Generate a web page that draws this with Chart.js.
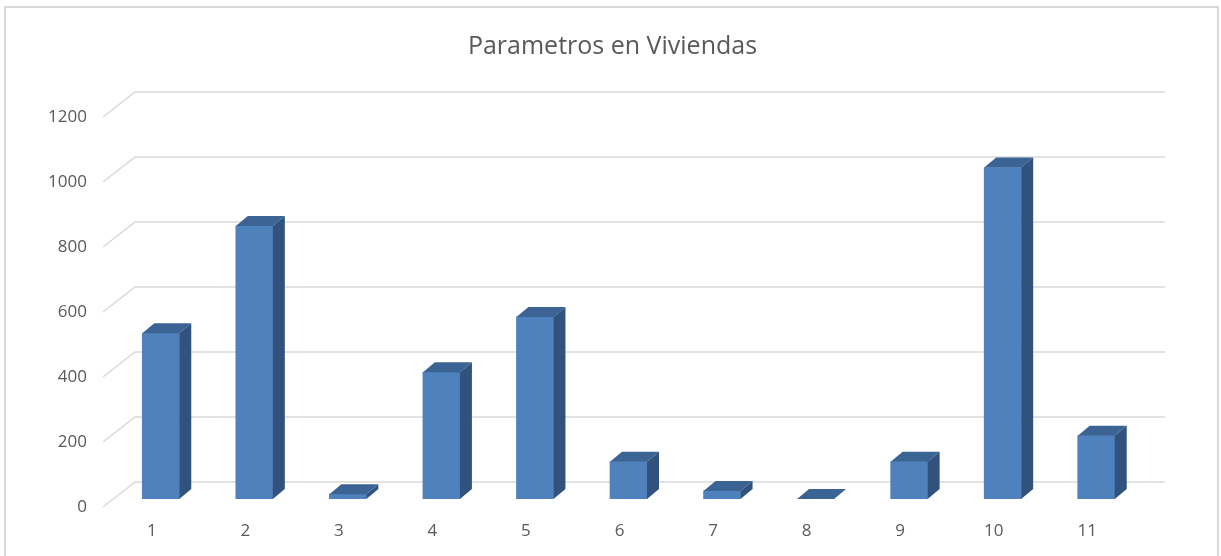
<!DOCTYPE html>
<html>
<head>
<meta charset="utf-8">
<script src="https://cdn.jsdelivr.net/npm/chart.js@4/dist/chart.umd.min.js"></script>
<style>
  html, body { margin: 0; padding: 0; background: #ffffff; }
  #wrap { width: 1221px; height: 556px; position: relative; }
</style>
</head>
<body>
<div id="wrap"><canvas id="c" width="1221" height="556"></canvas></div>
<script>
const chartTitle = "Parametros en Viviendas";
const categories = ["1", "2", "3", "4", "5", "6", "7", "8", "9", "10", "11"];
const values = [510, 840, 15, 390, 560, 115, 25, 0, 115, 1020, 195];
const yTicks = [0, 200, 400, 600, 800, 1000, 1200];

const frontColor = "#4F81BD";
const topColor = "#3B6495";
const sideColor = "#30527C";
const gridColor = "#D9D9D9";
const textColor = "#595959";

const DEPTH_DX = 12, DEPTH_DY = -10;       // bar depth
const BACK_DX = 21, BACK_DY = -17;         // back wall offset from bar plane
const FRONT_DX = -11, FRONT_DY = 8;        // front edge offset from bar plane

const framePlugin = {
  id: "frame",
  beforeDraw(chart) {
    const ctx = chart.ctx;
    ctx.save();
    ctx.strokeStyle = gridColor;
    ctx.lineWidth = 2;
    ctx.strokeRect(5, 7, 1213, 560);
    // chart title, centred on the whole chart frame
    ctx.fillStyle = textColor;
    ctx.font = "normal 25px 'Open Sans', sans-serif";
    ctx.textAlign = "center";
    ctx.textBaseline = "middle";
    ctx.fillText(chartTitle, chart.width / 2 + 2, 47);
    ctx.restore();
  }
};

const wallPlugin = {
  id: "wall",
  beforeDatasetsDraw(chart) {
    const ctx = chart.ctx;
    const y = chart.scales.y;
    const { left, right } = chart.chartArea;
    ctx.save();
    ctx.strokeStyle = gridColor;
    ctx.lineWidth = 1.5;
    y.ticks.forEach(t => {
      const yb = y.getPixelForValue(t.value);
      ctx.beginPath();
      ctx.moveTo(left + FRONT_DX, yb + FRONT_DY);
      ctx.lineTo(left + BACK_DX, yb + BACK_DY);
      ctx.lineTo(right + BACK_DX + 1, yb + BACK_DY);
      ctx.stroke();
    });
    ctx.restore();
  }
};

const depthPlugin = {
  id: "depth",
  afterDatasetsDraw(chart) {
    const ctx = chart.ctx;
    const meta = chart.getDatasetMeta(0);
    ctx.save();
    meta.data.forEach(el => {
      const p = el.getProps(["x", "y", "base", "width"], true);
      const l = p.x - p.width / 2, r = p.x + p.width / 2;
      const top = Math.min(p.y, p.base), bot = Math.max(p.y, p.base);
      ctx.fillStyle = topColor;
      ctx.beginPath();
      ctx.moveTo(l, top);
      ctx.lineTo(r, top);
      ctx.lineTo(r + DEPTH_DX, top + DEPTH_DY);
      ctx.lineTo(l + DEPTH_DX, top + DEPTH_DY);
      ctx.closePath();
      ctx.fill();
      ctx.fillStyle = sideColor;
      ctx.beginPath();
      ctx.moveTo(r, top);
      ctx.lineTo(r + DEPTH_DX, top + DEPTH_DY);
      ctx.lineTo(r + DEPTH_DX, bot + DEPTH_DY);
      ctx.lineTo(r, bot);
      ctx.closePath();
      ctx.fill();
    });
    ctx.restore();
  }
};

new Chart(document.getElementById("c"), {
  type: "bar",
  data: {
    labels: categories,
    datasets: [{
      data: values,
      backgroundColor: frontColor,
      borderWidth: 0,
      barThickness: 37
    }]
  },
  options: {
    responsive: false,
    animation: false,
    events: [],
    layout: { padding: { left: 44, right: 78, top: 109, bottom: 0 } },
    plugins: {
      legend: { display: false },
      tooltip: { enabled: false },
      title: { display: false }
    },
    scales: {
      x: {
        grid: { display: false, drawTicks: false },
        border: { display: false },
        ticks: {
          color: textColor,
          font: { family: "'Open Sans', sans-serif", size: 17 },
          padding: 22,
          labelOffset: -9,
          maxRotation: 0
        },
        afterFit: s => { s.height = 57; }
      },
      y: {
        min: 0,
        max: 1200,
        afterBuildTicks: s => { s.ticks = yTicks.map(v => ({ value: v })); },
        grid: { display: false, drawTicks: false },
        border: { display: false },
        ticks: {
          color: textColor,
          font: { family: "'Open Sans', sans-serif", size: 17 },
          padding: 27,
          labelOffset: 8,
          callback: v => String(v)
        },
        afterFit: s => { s.width = 70; }
      }
    }
  },
  plugins: [framePlugin, wallPlugin, depthPlugin]
});
</script>
</body>
</html>
